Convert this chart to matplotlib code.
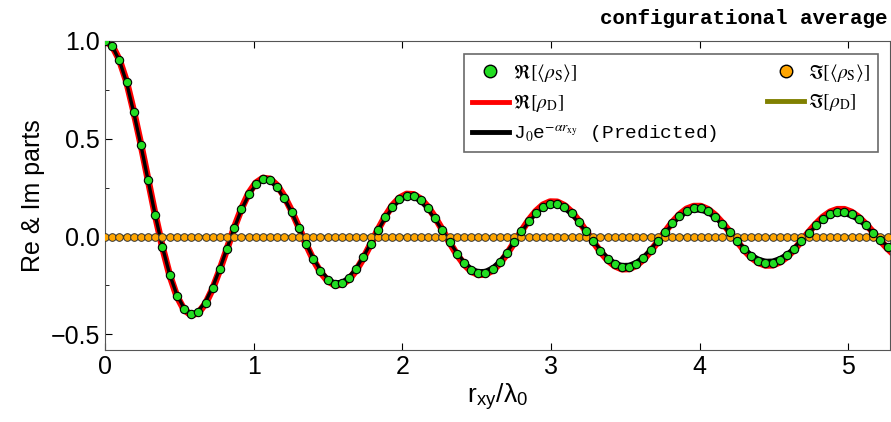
import numpy as np
import matplotlib.pyplot as plt

plt.rcParams["font.family"] = ["Liberation Sans", "DejaVu Sans"]
plt.rcParams["mathtext.fontset"] = "stix"

RE_D = [1.000, 0.976, 0.904, 0.793, 0.640, 0.472, 0.291, 0.110, -0.054, -0.196,
        -0.304, -0.373, -0.402, -0.390, -0.343, -0.266, -0.169, -0.062, 0.045, 0.142,
        0.221, 0.274, 0.299, 0.294, 0.261, 0.204, 0.131, 0.047, -0.038, -0.117,
        -0.181, -0.226, -0.248, -0.245, -0.219, -0.172, -0.110, -0.039, 0.034, 0.101,
        0.158, 0.197, 0.217, 0.215, 0.192, 0.151, 0.097, 0.034, -0.030, -0.091,
        -0.141, -0.177, -0.195, -0.193, -0.173, -0.137, -0.088, -0.031, 0.028, 0.083,
        0.129, 0.162, 0.178, 0.177, 0.159, 0.126, 0.080, 0.028, -0.026, -0.077,
        -0.120, -0.150, -0.166, -0.165, -0.148, -0.117, -0.075, -0.026, 0.024, 0.072,
        0.112, 0.141, 0.155, 0.155, 0.139, 0.110, 0.070, 0.025, -0.023, -0.068,
        -0.106, -0.133, -0.147, -0.146, -0.131, -0.104, -0.067, -0.023, 0.022, 0.064,
        0.100, 0.126, 0.139, 0.139, 0.125, 0.099, 0.063, 0.022, -0.021, -0.061,
        -0.096, -0.120]
R_MAX = 5.36          # last sample position, r_xy / lambda_0
ALPHA_PRED = 0.042    # damping of the predicted curve
ALPHA_SIM = 0.018     # apparent damping of the simulated average

re_d = np.array(RE_D)
r = np.linspace(0, R_MAX, len(re_d))
pred = re_d * np.exp(-ALPHA_PRED * r)
re_s = re_d * np.exp(-ALPHA_SIM * r)
im_s = np.zeros_like(r)
im_d = np.zeros_like(r)

fig = plt.figure(figsize=(8.91, 4.22), dpi=100)
ax = fig.add_axes([105 / 891, 1 - 350 / 422, 785 / 891, 309 / 422])

ax.plot(r, re_d, color="red", lw=5, zorder=2)
ax.plot(r, im_d, color="#808000", lw=3, zorder=2)
ax.plot(r, pred, color="black", lw=2.4, zorder=3)
ax.plot(r, im_s, "o", color="orange", mec="#333333", mew=0.7, ms=5.5, zorder=4)
ax.plot(r, re_s, "o", color="#22dd22", mec="black", mew=0.8, ms=6, zorder=5)

ax.set_xlim(0, 5.28)
ax.set_ylim(-0.58, 1.0)
ax.set_xticks([0, 1, 2, 3, 4, 5])
ax.set_yticks([-0.5, 0, 0.5, 1.0])
ax.set_yticks([-0.25, 0.25, 0.75], minor=True)
ax.set_yticklabels(["\u22120.5", "0.0", "0.5", "1.0"])
ax.tick_params(direction="in", top=True, labelsize=18, length=5)
ax.tick_params(which="minor", direction="in", length=3)
for s in ax.spines.values():
    s.set_color("#555555")
ax.set_xlabel(r"r$_{\mathregular{xy}}$/\u03bb$_{\mathregular{0}}$".replace("\\u03bb", "\u03bb"),
              fontsize=19, labelpad=2)
ax.set_ylabel("Re & Im parts", fontsize=18)
fig.text(888 / 891, 1 - 18 / 422, "configurational average", ha="right", va="center",
         family="Liberation Mono", weight="bold", fontsize=15)

# legend
h = [
    plt.Line2D([], [], ls="", marker="o", color="#22dd22", mec="black", ms=9),
    plt.Line2D([], [], color="red", lw=3.5),
    plt.Line2D([], [], color="black", lw=3.5),
    plt.Line2D([], [], ls="", marker="o", color="orange", mec="black", ms=9),
    plt.Line2D([], [], color="#808000", lw=3.5),
]
labels = [r"$\Re[\langle\rho_{\rm S}\rangle]$", r"$\Re[\rho_{\rm D}]$",
          r"J$_0$e$^{-\alpha r_{\rm xy}}$ (Predicted)",
          r"$\Im[\langle\rho_{\rm S}\rangle]$", r"$\Im[\rho_{\rm D}]$"]
leg = ax.legend(h, labels, ncol=2, loc="upper right", bbox_to_anchor=(0.997, 0.99),
                frameon=True, fancybox=False, edgecolor="#444444",
                handlelength=1.9, handletextpad=0.2, columnspacing=2.6,
                borderpad=0.4, labelspacing=0.45,
                prop={"family": "Liberation Mono", "size": 14})
leg.get_frame().set_linewidth(1.2)

fig.savefig("out.png", dpi=100)
